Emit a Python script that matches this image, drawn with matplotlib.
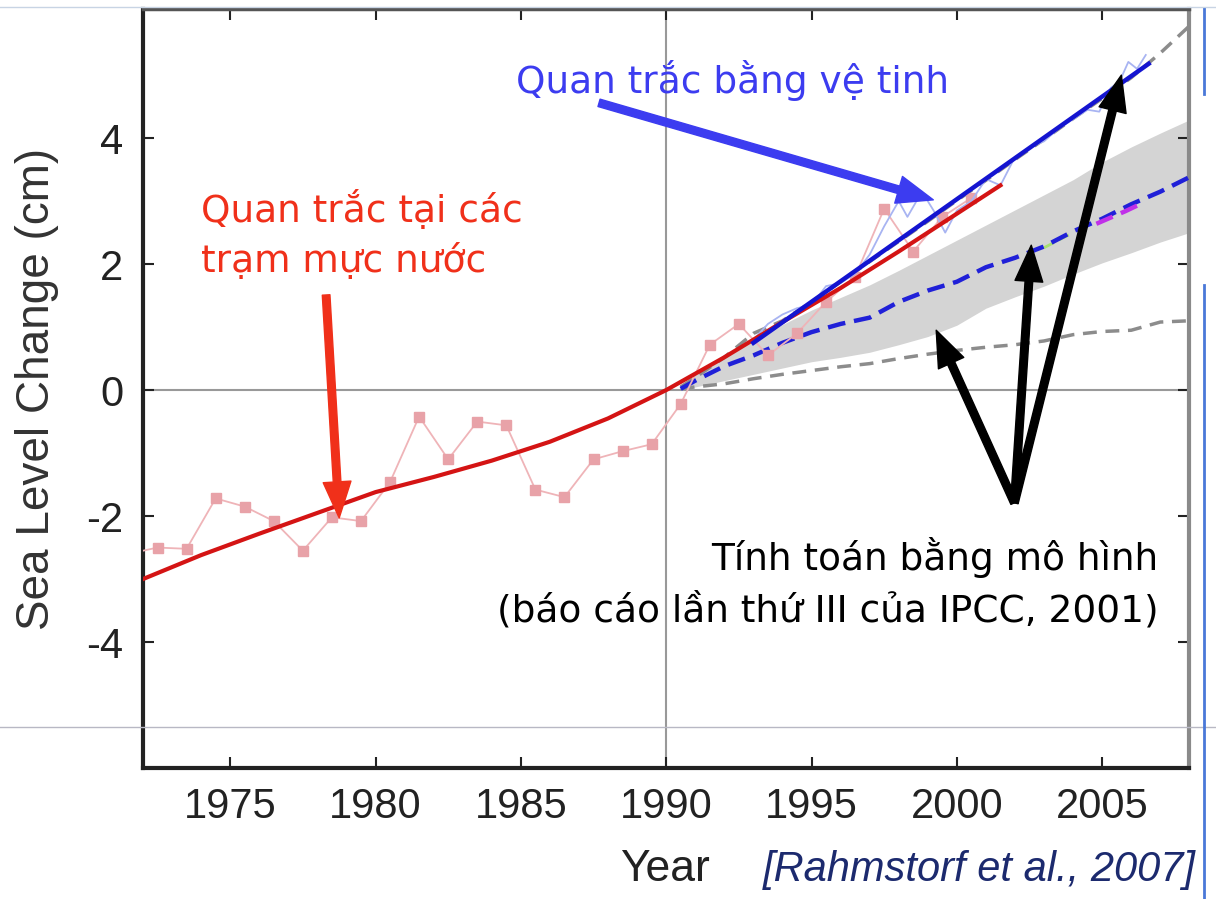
import matplotlib.pyplot as plt
from matplotlib.lines import Line2D

plt.rcParams['axes.unicode_minus'] = False

# tide gauge annual means (cm, relative to 1990)
gauge_years = [1971.5, 1972.5, 1973.5, 1974.5, 1975.5, 1976.5, 1977.5, 1978.5, 1979.5,
               1980.5, 1981.5, 1982.5, 1983.5, 1984.5, 1985.5, 1986.5, 1987.5, 1988.5,
               1989.5, 1990.5, 1991.5, 1992.5, 1993.5, 1994.5, 1995.5, 1996.5, 1997.5,
               1998.5, 1999.5, 2000.5]
gauge_vals = [-2.60, -2.50, -2.52, -1.72, -1.85, -2.08, -2.55, -2.02, -2.08,
              -1.46, -0.42, -1.10, -0.50, -0.56, -1.58, -1.70, -1.10, -0.97,
              -0.86, -0.22, 0.72, 1.05, 0.55, 0.90, 1.40, 1.80, 2.88,
              2.20, 2.75, 3.05]

# smoothed tide gauge trend
gauge_trend_years = [1972, 1974, 1976, 1978, 1980, 1982, 1984, 1986, 1988, 1990,
                     1992, 1994, 1996, 1998, 2000, 2001.5]
gauge_trend_vals = [-3.00, -2.62, -2.28, -1.95, -1.62, -1.38, -1.12, -0.82, -0.45, 0.0,
                    0.52, 1.08, 1.62, 2.20, 2.80, 3.25]

# satellite altimetry
sat_years = [1993.0, 1993.5, 1994.0, 1994.5, 1995.0, 1995.5, 1996.0, 1996.5, 1997.0,
             1997.5, 1998.0, 1998.3, 1998.8, 1999.2, 1999.6, 2000.0, 2000.5, 2001.0,
             2001.5, 2002.0, 2002.5, 2003.0, 2003.5, 2004.0, 2004.5, 2004.9, 2005.3,
             2005.6, 2005.9, 2006.2, 2006.5]
sat_vals = [0.80, 1.05, 1.20, 1.30, 1.35, 1.65, 1.70, 1.85, 2.15,
            2.60, 3.00, 2.75, 3.15, 2.85, 2.50, 2.85, 3.00, 3.35,
            3.25, 3.70, 3.85, 3.95, 4.15, 4.30, 4.45, 4.42, 4.80,
            4.90, 5.21, 5.10, 5.32]
sat_trend_years = [1993.0, 2006.6]
sat_trend_vals = [0.75, 5.18]

# IPCC TAR projections
proj_years = [1990.5, 1991, 1992, 1993, 1994, 1995, 1996, 1997, 1998, 1999, 2000,
              2001, 2002, 2003, 2004, 2005, 2006, 2007, 2008]
proj_mid = [0.02, 0.15, 0.38, 0.55, 0.75, 0.92, 1.05, 1.15, 1.40, 1.58, 1.72,
            1.95, 2.10, 2.28, 2.52, 2.72, 2.95, 3.15, 3.38]
proj_upper = [0.05, 0.24, 0.52, 0.80, 1.04, 1.27, 1.47, 1.67, 1.90, 2.14, 2.38,
              2.62, 2.86, 3.10, 3.34, 3.62, 3.86, 4.08, 4.29]
proj_lower = [0.00, 0.05, 0.15, 0.25, 0.35, 0.45, 0.52, 0.60, 0.72, 0.85, 1.03,
              1.30, 1.48, 1.65, 1.84, 2.02, 2.18, 2.35, 2.50]
proj_max = [0.05, 0.20, 0.52, 0.90, 1.10, 1.40, 1.72, 2.04, 2.36, 2.68, 3.01,
            3.33, 3.66, 3.98, 4.31, 4.63, 4.96, 5.35, 5.78]
proj_min = [0.02, 0.05, 0.10, 0.18, 0.25, 0.31, 0.37, 0.42, 0.50, 0.57, 0.63,
            0.68, 0.72, 0.78, 0.88, 0.93, 0.95, 1.08, 1.10]
# individual model runs showing through the mean line
alt_years = [2004.8, 2005.3, 2005.8, 2006.3]
alt_vals = [2.64, 2.74, 2.84, 2.95]
alt2_years = [2003.0, 2003.5, 2004.0]
alt2_vals = [2.26, 2.38, 2.50]

xticks = [1975, 1980, 1985, 1990, 1995, 2000, 2005]
yticks = [-4, -2, 0, 2, 4]

ARIAL = 'Liberation Sans'
LABEL_FONT = 'DejaVu Sans'

fig = plt.figure(figsize=(12.16, 8.99), dpi=100)
ax = fig.add_axes([0.1176, 0.1457, 0.8605, 0.8443])

ax.fill_between(proj_years, proj_lower, proj_upper, color='#d4d4d4', lw=0, zorder=1)
ax.axhline(0, color='#999999', lw=1.5, zorder=0.5)
ax.axvline(1990, color='#999999', lw=1.5, zorder=0.5)

ax.plot(proj_years, proj_max, color='#8c8c8c', lw=2.5, dashes=(4, 2.5), zorder=2)
ax.plot(proj_years, proj_min, color='#8c8c8c', lw=2.5, dashes=(4, 2.5), zorder=2)
ax.plot(proj_years, proj_mid, color='#2020d8', lw=3.2, dashes=(4, 2), zorder=3)
ax.plot(alt_years, alt_vals, color='#c030e8', lw=3.2, dashes=(4, 2), zorder=3.2)
ax.plot(alt2_years, alt2_vals, color='#a8e070', lw=2, dashes=(4, 2), zorder=2.8)

ax.plot(gauge_years, gauge_vals, color='#efb4b8', lw=1.3, marker='s', ms=7,
        mfc='#e8a2a8', mec='#e8a2a8', zorder=4)
ax.plot(sat_years, sat_vals, color='#a8b4f2', lw=1.3, zorder=4)
ax.plot(gauge_trend_years, gauge_trend_vals, color='#d41414', lw=3, zorder=5)
ax.plot(sat_trend_years, sat_trend_vals, color='#1414d0', lw=3.2, zorder=6)

ax.set_xlim(1972, 2008)
ax.set_ylim(-6, 6.05)
ax.set_xticks(xticks)
ax.set_yticks(yticks)
ax.tick_params(direction='in', length=8, width=1.5, top=True, right=True,
               labelsize=30, pad=14, colors='#222222')
for lab in ax.get_xticklabels() + ax.get_yticklabels():
    lab.set_fontfamily(ARIAL)
    lab.set_color('#222222')
for side in ['left', 'bottom']:
    ax.spines[side].set_linewidth(3)
    ax.spines[side].set_color('#222222')
ax.spines['top'].set_linewidth(2.5)
ax.spines['top'].set_color('#555555')
ax.spines['right'].set_linewidth(3)
ax.spines['right'].set_color('#8a8a8a')

ax.set_ylabel('Sea Level Change (cm)', fontsize=33, family=ARIAL, color='#333333', labelpad=20)
fig.text(0.547, 0.02, 'Year', fontsize=32, family=ARIAL, color='#222222', ha='center')
fig.text(0.983, 0.02, '[Rahmstorf et al., 2007]', fontsize=30, family=ARIAL,
         style='italic', color='#1c2a6e', ha='right')

# annotations
ax.text(1984.84, 4.71, 'Quan trắc bằng vệ tinh', fontsize=27, family=LABEL_FONT,
        color='#3c3cf0', ha='left', va='baseline', zorder=10)
ax.text(1974.0, 2.67, 'Quan trắc tại các', fontsize=27, family=LABEL_FONT,
        color='#f0301a', ha='left', va='baseline', zorder=10)
ax.text(1974.0, 1.87, 'trạm mực nước', fontsize=27, family=LABEL_FONT,
        color='#f0301a', ha='left', va='baseline', zorder=10)
ax.text(2006.93, -2.86, 'Tính toán bằng mô hình', fontsize=27, family=LABEL_FONT,
        color='black', ha='right', va='baseline', zorder=10)
ax.text(2006.93, -3.68, '(báo cáo lần thứ III của IPCC, 2001)', fontsize=27,
        family=LABEL_FONT, color='black', ha='right', va='baseline', zorder=10)

arrow_kw = dict(width=5.5, headwidth=20, headlength=26, shrink=0)
ax.annotate('', xy=(1978.75, -2.03), xytext=(1978.30, 1.51),
            arrowprops=dict(color='#f0301a', **arrow_kw), zorder=11)
ax.annotate('', xy=(1999.19, 3.02), xytext=(1987.69, 4.56),
            arrowprops=dict(color='#3c3cf0', **arrow_kw), zorder=11)
for tip in [(1999.29, 0.95), (2002.56, 2.30), (2005.66, 5.0)]:
    ax.annotate('', xy=tip, xytext=(2001.98, -1.79),
                arrowprops=dict(color='black', **arrow_kw), zorder=11)

# slide frame lines
fig.add_artist(Line2D([0, 1], [0.1913, 0.1913], transform=fig.transFigure,
                      color='#b8b8c4', lw=1, zorder=20))
fig.add_artist(Line2D([0, 1], [0.992, 0.992], transform=fig.transFigure,
                      color='#c8d4e4', lw=1, zorder=20))
fig.add_artist(Line2D([0.99, 0.99], [0.0, 0.683], transform=fig.transFigure,
                      color='#4a78d8', lw=2, zorder=20))
fig.add_artist(Line2D([0.99, 0.99], [0.895, 0.99], transform=fig.transFigure,
                      color='#4a78d8', lw=2, zorder=20))

fig.savefig('out.png', dpi=100)
